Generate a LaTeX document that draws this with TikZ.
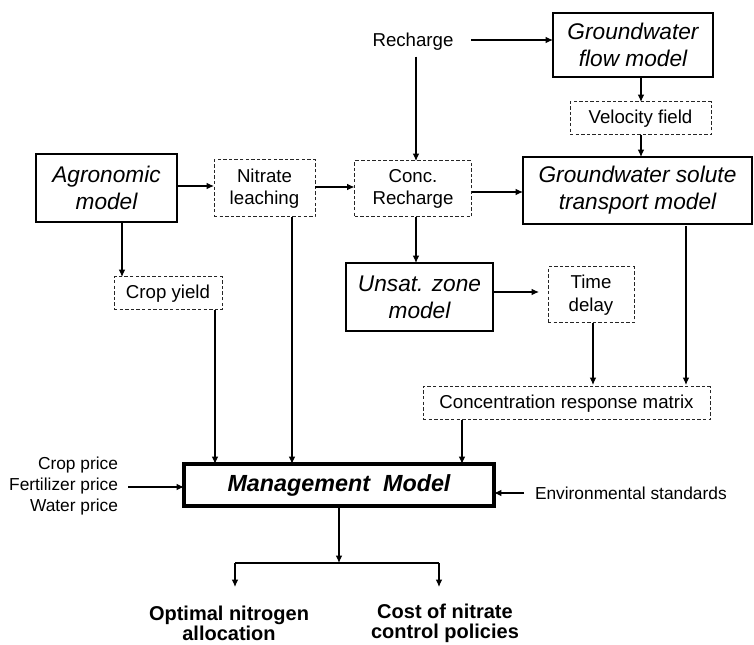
\documentclass[tikz,border=0pt]{standalone}
\usepackage{fontspec}
\setmainfont{Liberation Sans}
\usetikzlibrary{arrows.meta,calc}
\begin{document}
\begin{tikzpicture}[x=0.75pt,y=-0.75pt,
  every node/.style={inner sep=0pt,outer sep=0pt,align=center},
  lbl/.style={font=\fontsize{14}{16.9}\selectfont},
  modelbox/.style={draw,line width=1.5pt,font=\fontsize{17}{20.25}\selectfont\itshape},
  dbox/.style={draw=black!85,line width=0.75pt,dash pattern=on 2.6pt off 1.6pt,font=\fontsize{14}{16.9}\selectfont},
  small/.style={font=\fontsize{13}{15.75}\selectfont},
  outlbl/.style={font=\fontsize{15}{15}\selectfont\bfseries},
  arr/.style={line width=0.9pt,-{Latex[length=5.5pt,width=5pt]}},
  ln/.style={line width=0.9pt}]
\useasboundingbox (0,0) rectangle (754,645);
% nodes
\node[modelbox,minimum width=141*0.75pt,minimum height=68*0.75pt] (agro) at (106.5,188) {Agronomic\\model};
\node[dbox,minimum width=101*0.75pt,minimum height=57*0.75pt] (nitrate) at (264.5,188.5) {Nitrate\\leaching};
\node[dbox,minimum width=117*0.75pt,minimum height=56*0.75pt] (conc) at (413,189) {Conc.\\Recharge};
\node[lbl] (rech) at (413,42) {Recharge};
\node[modelbox,minimum width=160*0.75pt,minimum height=64*0.75pt] (flow) at (633,45) {Groundwater\\flow model};
\node[dbox,minimum width=141*0.75pt,minimum height=33*0.75pt] (vel) at (640.5,118.5) {Velocity field};
\node[modelbox,minimum width=229*0.75pt,minimum height=67*0.75pt] (solute) at (637.5,190.5) {Groundwater solute\\transport model};
\node[modelbox,minimum width=147*0.75pt,minimum height=68*0.75pt] (unsat) at (419.5,297) {Unsat. zone\\model};
\node[dbox,minimum width=86*0.75pt,minimum height=56*0.75pt] (time) at (591,295) {Time\\delay};
\node[dbox,minimum width=108*0.75pt,minimum height=33*0.75pt] (crop) at (168,293.5) {Crop yield};
\node[dbox,minimum width=287*0.75pt,minimum height=33*0.75pt] (crm) at (566.5,403.5) {Concentration response matrix};
\node[draw,line width=2.6pt,minimum width=310*0.75pt,minimum height=42*0.75pt,font=\fontsize{17.5}{20}\selectfont\bfseries\itshape] (mgmt) at (339,485) {Management\ \ Model};
\node[small,align=right,anchor=east] (prices) at (118,486) {Crop price\\Fertilizer price\\Water price};
\node[small,anchor=west] (env) at (535,493) {Environmental standards};
\node[outlbl] (opt) at (229,623) {Optimal nitrogen\\allocation};
\node[outlbl] (cost) at (445,623) {Cost of nitrate\\control policies};
% connectors
\draw[arr] (agro.east |- 0,186) -- (nitrate.west |- 0,186);
\draw[arr] (nitrate.east |- 0,187) -- (conc.west |- 0,187);
\draw[arr] (conc.east |- 0,192) -- (solute.west |- 0,192);
\draw[arr,shorten <=18*0.75pt] (rech.east |- 0,40) -- (flow.west |- 0,40);
\draw[arr,shorten <=6*0.75pt] (rech.south -| 416,0) -- (conc.north -| 416,0);
\draw[arr] (flow.south -| 641,0) -- (vel.north -| 641,0);
\draw[arr] (vel.south -| 641,0) -- (solute.north -| 641,0);
\draw[arr] (conc.south -| 416,0) -- (unsat.north -| 416,0);
\draw[arr,shorten >=9*0.75pt] (unsat.east |- 0,292) -- (time.west |- 0,292);
\draw[arr,shorten >=2*0.75pt] (time.south -| 593,0) -- (crm.north -| 593,0);
\draw[arr,shorten >=2*0.75pt,shorten <=2*0.75pt] (solute.south -| 686,0) -- (crm.north -| 686,0);
\draw[arr] (agro.south -| 122,0) -- (crop.north -| 122,0);
\draw[arr] (crop.south -| 215,0) -- (mgmt.north -| 215,0);
\draw[arr] (nitrate.south -| 292,0) -- (mgmt.north -| 292,0);
\draw[arr] (crm.south -| 462,0) -- (mgmt.north -| 462,0);
\draw[arr,shorten <=10*0.75pt] (prices.east |- 0,487) -- (mgmt.west |- 0,487);
\draw[arr,shorten <=11*0.75pt] (env.west) -- (mgmt.east |- env.west);
\coordinate (split) at (339,563);
\coordinate (outL) at (235,587);
\coordinate (outR) at (439,587);
\draw[arr] (mgmt.south) -- (split);
\draw[ln] (235,563) -- (439,563);
\draw[arr] (235,563) -- (outL);
\draw[arr] (439,563) -- (outR);
\end{tikzpicture}
\end{document}
